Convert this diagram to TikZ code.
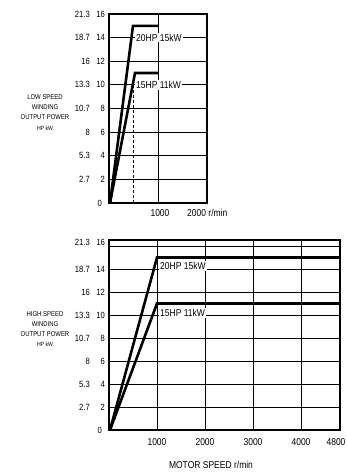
\documentclass[tikz,border=0pt]{standalone}
\usepackage{fontspec}
\setmainfont{Liberation Sans}[FakeStretch=0.85]
\begin{document}
\begin{tikzpicture}[x=1pt,y=-1pt,
  frame/.style={line width=1.3pt},
  gridln/.style={line width=0.8pt},
  power/.style={line width=2.6pt, line join=miter},
  ticklab/.style={font=\fontsize{10}{10}\selectfont, inner sep=0pt},
  axlab/.style={font=\fontsize{9}{9}\selectfont, inner sep=0pt, anchor=east},
  sidelab/.style={font=\fontsize{7}{7}\selectfont, inner sep=0pt, align=center},
  curvelab/.style={font=\fontsize{10}{10}\selectfont, inner sep=1pt, fill=white, anchor=west}]
\useasboundingbox (0,0) rectangle (346,474);

% ---------------- top chart (low speed) ----------------
\coordinate (tTL) at (109,14);
\coordinate (tBR) at (207,203);
\foreach \i in {1,...,7}
  \draw[gridln] (109,{203-23.625*\i}) -- (207,{203-23.625*\i});
\draw[gridln] (158,14) -- (158,203);
\draw[line width=0.6pt, dash pattern=on 3pt off 2pt] (133,75) -- (133,203);
\draw[frame] (tTL) rectangle (tBR);

\coordinate (tO) at (110,203);
\coordinate (tA) at (133,25.8);
\coordinate (tAe) at (158,25.8);
\coordinate (tB) at (135,73);
\coordinate (tBe) at (158,73);
\draw[power] (tO) -- (tA) -- (tAe);
\draw[power] (tO) -- (tB) -- (tBe);

\node[curvelab] (tL1) at (135,37.6) {20HP 15kW};
\node[curvelab] (tL2) at (135,84.9) {15HP 11kW};

\foreach \h/\k [count=\i] in {2.7/2,5.3/4,8/6,10.7/8,13.3/10,16/12,18.7/14,21.3/16}{
  \node[axlab] (th\i) at (90,{203-23.625*\i}) {\h};
  \node[axlab] (tk\i) at (105,{203-23.625*\i}) {\k};
}
\node[axlab] (t0) at (102,203) {0};

\node[ticklab] (tx1) at (160,213) {1000};
\node[ticklab, anchor=west] (tx2) at (187,213) {2000 r/min};

\node[sidelab] (ts1) at (45,97) {LOW SPEED};
\node[sidelab] (ts2) at (45,107) {WINDING};
\node[sidelab] (ts3) at (45,117) {OUTPUT POWER};
\node[sidelab, font=\fontsize{6}{6}\selectfont] (ts4) at (45,128) {HP kW};

% ---------------- bottom chart (high speed) ----------------
\coordinate (bTL) at (109,240);
\coordinate (bBR) at (340,430);
\foreach \i in {1,...,8}
  \draw[gridln] (109,{430-23*\i}) -- (340,{430-23*\i});
\foreach \i in {1,...,4}
  \draw[gridln] ({109+48.1*\i},240) -- ({109+48.1*\i},430);
\draw[frame] (bTL) rectangle (bBR);

\coordinate (bO) at (110,430);
\coordinate (bA) at (157,257.5);
\coordinate (bAe) at (340,257.5);
\coordinate (bB) at (157,303.5);
\coordinate (bBe) at (340,303.5);
\draw[power] (bO) -- (bA) -- (bAe);
\draw[power] (bO) -- (bB) -- (bBe);

\node[curvelab] (bL1) at (159,266) {20HP 15kW};
\node[curvelab] (bL2) at (159,313) {15HP 11kW};

\foreach \h/\k [count=\i] in {2.7/2,5.3/4,8/6,10.7/8,13.3/10,16/12,18.7/14}{
  \node[axlab] (bh\i) at (90,{430-23*\i}) {\h};
  \node[axlab] (bk\i) at (105,{430-23*\i}) {\k};
}
\node[axlab] (bh8) at (90,242) {21.3};
\node[axlab] (bk8) at (105,242) {16};
\node[axlab] (b0) at (102,430) {0};

\node[ticklab] (bx1) at (157,442) {1000};
\node[ticklab] (bx2) at (205,442) {2000};
\node[ticklab] (bx3) at (253,442) {3000};
\node[ticklab] (bx4) at (301,442) {4000};
\node[ticklab] (bx5) at (336,442) {4800};
\node[ticklab] (bxt) at (211,465) {MOTOR SPEED r/min};

\node[sidelab] (bs1) at (45,314) {HIGH SPEED};
\node[sidelab] (bs2) at (45,324) {WINDING};
\node[sidelab] (bs3) at (45,334) {OUTPUT POWER};
\node[sidelab, font=\fontsize{6}{6}\selectfont] (bs4) at (45,344) {HP kW};
\end{tikzpicture}
\end{document}
